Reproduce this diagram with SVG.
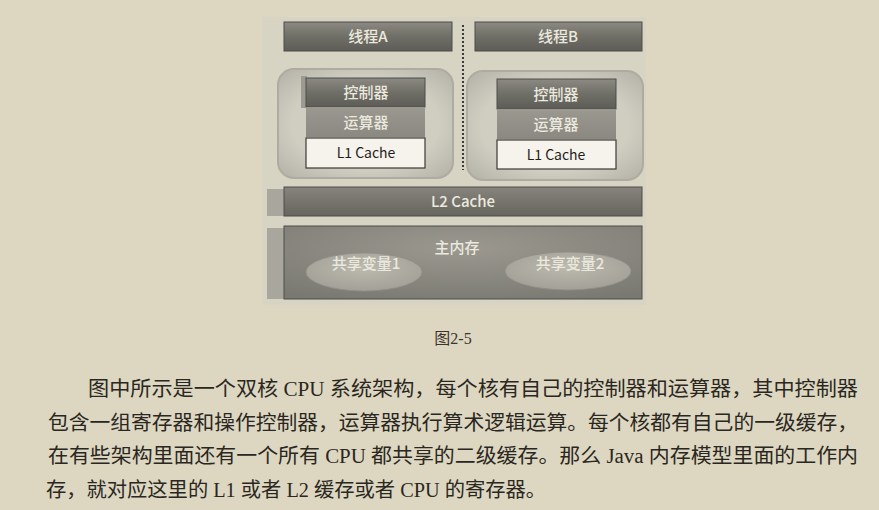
<svg xmlns="http://www.w3.org/2000/svg" width="879" height="510" viewBox="0 0 879 510">
<defs>
<linearGradient id="gDark" x1="0" y1="0" x2="0" y2="1">
<stop offset="0" stop-color="#8c8a82"/><stop offset="0.5" stop-color="#6f6e67"/><stop offset="1" stop-color="#5d5c56"/>
</linearGradient>
<linearGradient id="gMid" x1="0" y1="0" x2="0" y2="1">
<stop offset="0" stop-color="#9a988f"/><stop offset="1" stop-color="#8a8880"/>
</linearGradient>
<linearGradient id="gL2" x1="0" y1="0" x2="0" y2="1">
<stop offset="0" stop-color="#86847c"/><stop offset="1" stop-color="#66655e"/>
</linearGradient>
<radialGradient id="gMem" cx="0.5" cy="0.3" r="0.8">
<stop offset="0" stop-color="#9a988f"/><stop offset="1" stop-color="#7a7971"/>
</radialGradient>
<radialGradient id="gEll" cx="0.5" cy="0.4" r="0.6">
<stop offset="0" stop-color="#bcbaaf"/><stop offset="1" stop-color="#a3a197"/>
</radialGradient>
<radialGradient id="gCore" cx="0.5" cy="0.5" r="0.7">
<stop offset="0.6" stop-color="#d0cec1"/><stop offset="1" stop-color="#b3b1a6"/>
</radialGradient>
<style>
.bar{stroke:#4e4d48;stroke-width:1}
.lt{font-family:"Noto Sans CJK SC","Liberation Sans",sans-serif;fill:#ebe9de;text-anchor:middle;font-size:15px;font-weight:500}
.dk{font-family:"Noto Sans CJK SC","Liberation Sans",sans-serif;fill:#1e1e1c;text-anchor:middle;font-size:14px}
.para{font-family:"Liberation Serif","Noto Sans CJK SC",serif;fill:#2a2722;font-size:20px}
</style>
</defs>
<rect x="0" y="0" width="879" height="510" fill="#ddd7c1"/>
<rect x="262" y="17" width="384" height="288" fill="#d7d4c4"/>

<g id="connectors">
<line x1="463" y1="25" x2="463" y2="170" stroke="#3c3b37" stroke-width="2" stroke-dasharray="2,2"/>
</g>

<g id="threadA">
<rect class="bar" x="284" y="22" width="168" height="29" fill="url(#gDark)"/>
<text class="lt" x="368" y="42">线程A</text>
</g>
<g id="threadB">
<rect class="bar" x="475" y="22" width="167" height="29" fill="url(#gDark)"/>
<text class="lt" x="558" y="42">线程B</text>
</g>

<g id="coreA">
<rect x="278" y="69" width="175" height="109" rx="16" fill="url(#gCore)" stroke="#aeaca1" stroke-width="2"/>
<rect x="301" y="76" width="6" height="32" fill="#9d9b91"/>
<rect class="bar" x="306" y="78" width="119" height="29" fill="url(#gDark)"/>
<text class="lt" x="366" y="98">控制器</text>
<rect x="306" y="107" width="119" height="30" fill="url(#gMid)"/>
<text class="lt" x="366" y="128">运算器</text>
<rect x="306" y="138" width="119" height="30" fill="#f5f3eb" stroke="#3a3a36" stroke-width="1.2"/>
<text class="dk" x="366" y="158">L1 Cache</text>
</g>
<g id="coreB">
<rect x="467" y="71" width="176" height="109" rx="16" fill="url(#gCore)" stroke="#aeaca1" stroke-width="2"/>
<rect class="bar" x="497" y="79" width="119" height="30" fill="url(#gDark)"/>
<text class="lt" x="556" y="100">控制器</text>
<rect x="497" y="109" width="119" height="30" fill="url(#gMid)"/>
<text class="lt" x="556" y="130">运算器</text>
<rect x="497" y="140" width="119" height="29" fill="#f5f3eb" stroke="#3a3a36" stroke-width="1.2"/>
<text class="dk" x="556" y="160">L1 Cache</text>
</g>

<g id="l2cache">
<rect x="267" y="189" width="18" height="27" fill="#a9a79d"/>
<rect class="bar" x="284" y="187" width="358" height="29" fill="url(#gL2)"/>
<text class="lt" x="463" y="207" font-size="14" font-weight="400">L2 Cache</text>
</g>

<g id="mainMemory">
<rect x="267" y="228" width="18" height="71" fill="#a9a79d"/>
<rect class="bar" x="284" y="226" width="358" height="73" fill="url(#gMem)"/>
<text class="lt" x="457" y="253" font-size="16" font-weight="400">主内存</text>
</g>
<g id="var1">
<ellipse cx="364" cy="272" rx="58" ry="19" fill="url(#gEll)" stroke="#8f8d85" stroke-width="0.8"/>
<text class="lt" x="366" y="269" font-size="16" font-weight="400">共享变量1</text>
</g>
<g id="var2">
<ellipse cx="568" cy="271" rx="63" ry="19" fill="url(#gEll)" stroke="#8f8d85" stroke-width="0.8"/>
<text class="lt" x="570" y="269" font-size="16" font-weight="400">共享变量2</text>
</g>

<text x="453" y="344" text-anchor="middle" font-family="'Liberation Serif','Noto Sans CJK SC',serif" font-size="16" fill="#3a362e">图2-5</text>

<text class="para" x="88" y="396" textLength="770" lengthAdjust="spacingAndGlyphs">图中所示是一个双核 CPU 系统架构，每个核有自己的控制器和运算器，其中控制器</text>
<text class="para" x="48" y="430" textLength="810" lengthAdjust="spacingAndGlyphs">包含一组寄存器和操作控制器，运算器执行算术逻辑运算。每个核都有自己的一级缓存，</text>
<text class="para" x="48" y="463" textLength="810" lengthAdjust="spacingAndGlyphs">在有些架构里面还有一个所有 CPU 都共享的二级缓存。那么 Java 内存模型里面的工作内</text>
<text class="para" x="46" y="497" textLength="500" lengthAdjust="spacingAndGlyphs">存，就对应这里的 L1 或者 L2 缓存或者 CPU 的寄存器。</text>
</svg>
